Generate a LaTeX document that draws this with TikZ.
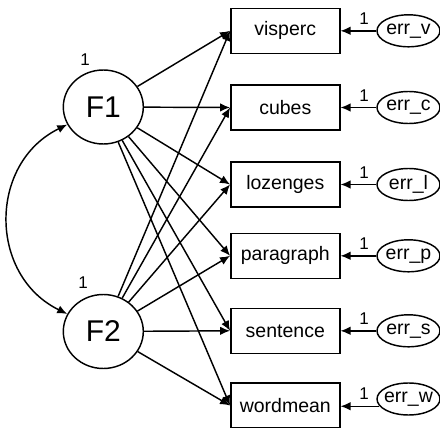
\documentclass[tikz,border=0pt]{standalone}
\usepackage{fontspec}
\setmainfont{Liberation Sans}
\usetikzlibrary{arrows.meta,shapes.geometric}
\begin{document}
\begin{tikzpicture}[x=1pt,y=1pt,
  line width=1.45pt,
  tip/.tip={Latex[length=10pt,width=8.5pt]},
  obs/.style={draw, rectangle, minimum width=109pt, minimum height=45pt, inner sep=0pt, font=\fontsize{19.5}{20}\selectfont},
  lat/.style={draw, ellipse, minimum width=80pt, minimum height=74pt, inner sep=0pt, font=\fontsize{30}{30}\selectfont},
  errn/.style={draw, ellipse, minimum width=63pt, minimum height=32pt, inner xsep=-4pt, inner ysep=0pt, font=\fontsize{19.5}{20}\selectfont},
  lbl/.style={font=\fontsize{17}{17}\selectfont, inner sep=0pt},
  arr/.style={-tip},
]
\useasboundingbox (0,0) rectangle (440,-428);
% latent factors
\node[lat] (F1) at (103.3,-107) {F1};
\node[lat] (F2) at (103.3,-331.5) {F2};
\node[lbl] (v1) at (85,-60) {1};
\node[lbl] (v2) at (83,-283) {1};
% observed variables
\node[obs] (vis) at (285.3,-30.8) {visperc};
\node[obs] (cub) at (285.3,-107.5) {cubes};
\node[obs] (loz) at (285.3,-184.5) {lozenges};
\node[obs] (par) at (285.3,-255.8) {paragraph};
\node[obs] (sen) at (285.3,-330.8) {sentence};
\node[obs] (wor) at (285.3,-405.5) {wordmean};
% error terms
\node[errn] (ev) at (408.5,-30.8) {err\_v};
\node[errn] (ec) at (408.5,-107.5) {err\_c};
\node[errn] (el) at (408.5,-184.5) {err\_l};
\node[errn] (ep) at (408.5,-255.8) {err\_p};
\node[errn] (es) at (408.5,-330.8) {err\_s};
\node[errn] (ew) at (408.5,-399) {err\_w};
% loadings
\foreach \b in {vis,cub,loz,par,sen,wor}{
  \draw[arr] (F1) -- (\b.west);
  \draw[arr] (F2) -- (\b.west);
}
% error paths
\draw[arr] (ev) -- (vis.east);
\draw[arr] (ec) -- (cub.east);
\draw[arr] (el) -- (loz.east);
\draw[arr] (ep) -- (par.east);
\draw[arr] (es) -- (sen.east);
\draw[arr] (ew.194) -- (wor.east |- ew.194);
\node[lbl] (e1) at (364,-18.5) {1};
\node[lbl] (e2) at (364,-95.2) {1};
\node[lbl] (e3) at (364,-172.2) {1};
\node[lbl] (e4) at (364,-243.5) {1};
\node[lbl] (e5) at (364,-318.5) {1};
\node[lbl] (e6) at (364,-393.5) {1};
% covariance
\draw[tip-tip] (F1) to[bend right=64, looseness=1.19] (F2);
\end{tikzpicture}
\end{document}
